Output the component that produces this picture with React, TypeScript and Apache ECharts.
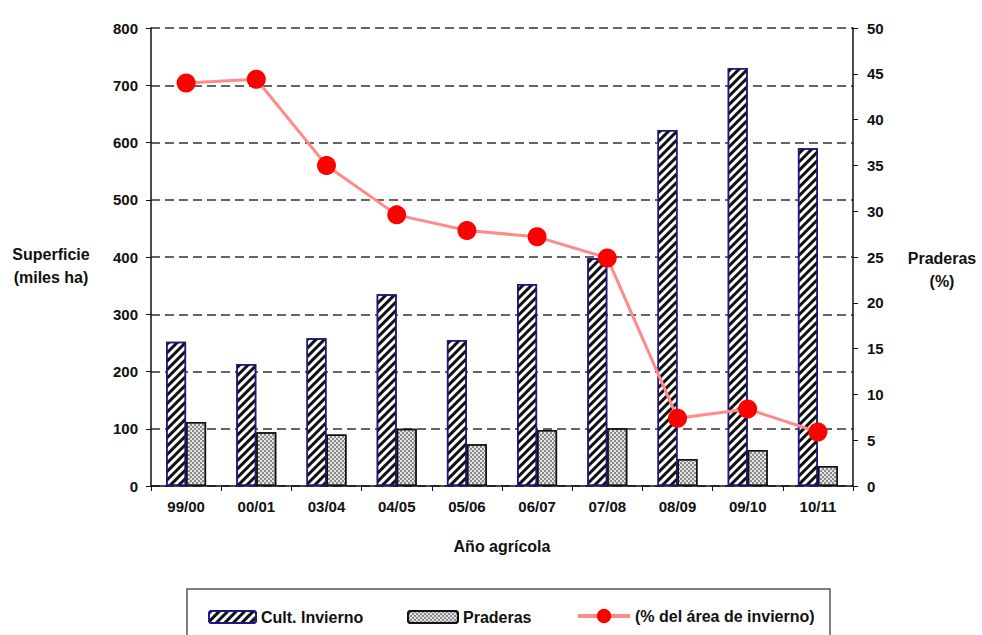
import React, { useEffect, useRef } from "react";
import * as echarts from "echarts";

const categories = ["99/00", "00/01", "03/04", "04/05", "05/06", "06/07", "07/08", "08/09", "09/10", "10/11"];
const cultInvierno = [252, 213, 258, 335, 255, 353, 398, 622, 730, 590];
const praderas = [112, 94, 90, 100, 73, 98, 101, 47, 63, 35];
const pctInvierno = [44.0, 44.4, 35.0, 29.6, 27.9, 27.2, 24.9, 7.4, 8.4, 5.9];
const leftTicks = { min: 0, max: 800, interval: 100 };
const rightTicks = { min: 0, max: 50, interval: 5 };

const FONT = "Liberation Sans, Arial, sans-serif";

export default function App() {
  const ref = useRef<HTMLDivElement>(null);
  useEffect(() => {
    document.body.style.margin = "0";
    const chart = echarts.init(ref.current!, null, { renderer: "svg" });
    const stripeDecal = {
      symbol: "rect",
      symbolSize: 1,
      color: "#111",
      backgroundColor: "#fff",
      dashArrayX: [1, 0],
      dashArrayY: [3, 3],
      rotation: -Math.PI / 4,
    };
    const checkDecal = {
      symbol: "rect",
      symbolSize: 1,
      color: "#8a8a8a",
      backgroundColor: "#e4e4e4",
      dashArrayX: [[2, 2], [0, 2, 2, 0]],
      dashArrayY: [2, 0],
      rotation: 0,
    };
    const tickStyle = { color: "#111", fontWeight: "bold" as const, fontSize: 15, fontFamily: FONT };
    const titleStyle = { color: "#111", fontWeight: "bold" as const, fontSize: 16, fontFamily: FONT };
    chart.setOption({
      animation: false,
      textStyle: { fontFamily: FONT },
      grid: { left: 151, right: 129, top: 28, bottom: 149 },
      xAxis: {
        type: "category",
        data: categories,
        axisLine: { lineStyle: { color: "#111", width: 1.5 } },
        axisTick: { show: true, length: 5, lineStyle: { color: "#111" } },
        axisLabel: { ...tickStyle, margin: 13 },
        name: "Año agrícola",
        nameLocation: "middle",
        nameGap: 52,
        nameTextStyle: titleStyle,
      },
      yAxis: [
        {
          type: "value",
          min: leftTicks.min,
          max: leftTicks.max,
          interval: leftTicks.interval,
          axisLine: { show: true, lineStyle: { color: "#111", width: 1.5 } },
          axisTick: { show: true, length: 5, lineStyle: { color: "#111" } },
          axisLabel: { ...tickStyle, margin: 13 },
          splitLine: {
            show: true,
            lineStyle: { color: "#333", type: [9, 5], width: 1.5 },
          },
        },
        {
          type: "value",
          min: rightTicks.min,
          max: rightTicks.max,
          interval: rightTicks.interval,
          position: "right",
          axisLine: { show: true, lineStyle: { color: "#111", width: 1.5 } },
          axisTick: { show: true, length: 5, lineStyle: { color: "#111" } },
          axisLabel: { ...tickStyle, margin: 14 },
          splitLine: { show: false },
        },
      ],
      legend: [
        {
          data: [{ name: "Cult. Invierno" }],
          left: 203,
          top: 604,
          itemWidth: 47,
          itemHeight: 12,
          textStyle: titleStyle,
        },
        {
          data: [{ name: "Praderas" }],
          left: 402,
          top: 604,
          itemWidth: 50,
          itemHeight: 12,
          textStyle: titleStyle,
        },
        {
          data: [{ name: "(% del área de invierno)" }],
          left: 571,
          top: 603,
          itemWidth: 52,
          itemHeight: 18,
          textStyle: titleStyle,
          lineStyle: { width: 4 },
        },
      ],
      graphic: [
        {
          type: "rect",
          shape: { x: 187, y: 589, width: 643, height: 60 },
          style: { fill: "none", stroke: "#555", lineWidth: 1.5 },
          silent: true,
        },
        {
          type: "text",
          x: 51,
          y: 266,
          style: {
            text: "Superficie\n(miles ha)",
            fill: "#111",
            font: `bold 16px ${FONT}`,
            align: "center",
            verticalAlign: "middle",
            lineHeight: 23,
          },
        },
        {
          type: "text",
          x: 942,
          y: 270,
          style: {
            text: "Praderas\n(%)",
            fill: "#111",
            font: `bold 16px ${FONT}`,
            align: "center",
            verticalAlign: "middle",
            lineHeight: 23,
          },
        },
      ],
      series: [
        {
          name: "Cult. Invierno",
          type: "bar",
          data: cultInvierno,
          yAxisIndex: 0,
          barWidth: 20,
          barGap: "0%",
          itemStyle: { color: "#fff", borderColor: "#1a1a80", borderWidth: 1.5, decal: stripeDecal },
        },
        {
          name: "Praderas",
          type: "bar",
          data: praderas,
          yAxisIndex: 0,
          barWidth: 20,
          barGap: "0%",
          itemStyle: { color: "#e4e4e4", borderColor: "#111", borderWidth: 1.5, decal: checkDecal },
        },
        {
          name: "(% del área de invierno)",
          type: "line",
          data: pctInvierno,
          yAxisIndex: 1,
          symbol: "circle",
          symbolSize: 19,
          lineStyle: { color: "#ff8a8a", width: 3 },
          itemStyle: { color: "#ff0000" },
          z: 5,
        },
      ],
    });
    return () => chart.dispose();
  }, []);
  return <div ref={ref} style={{ width: 982, height: 635 }} />;
}
